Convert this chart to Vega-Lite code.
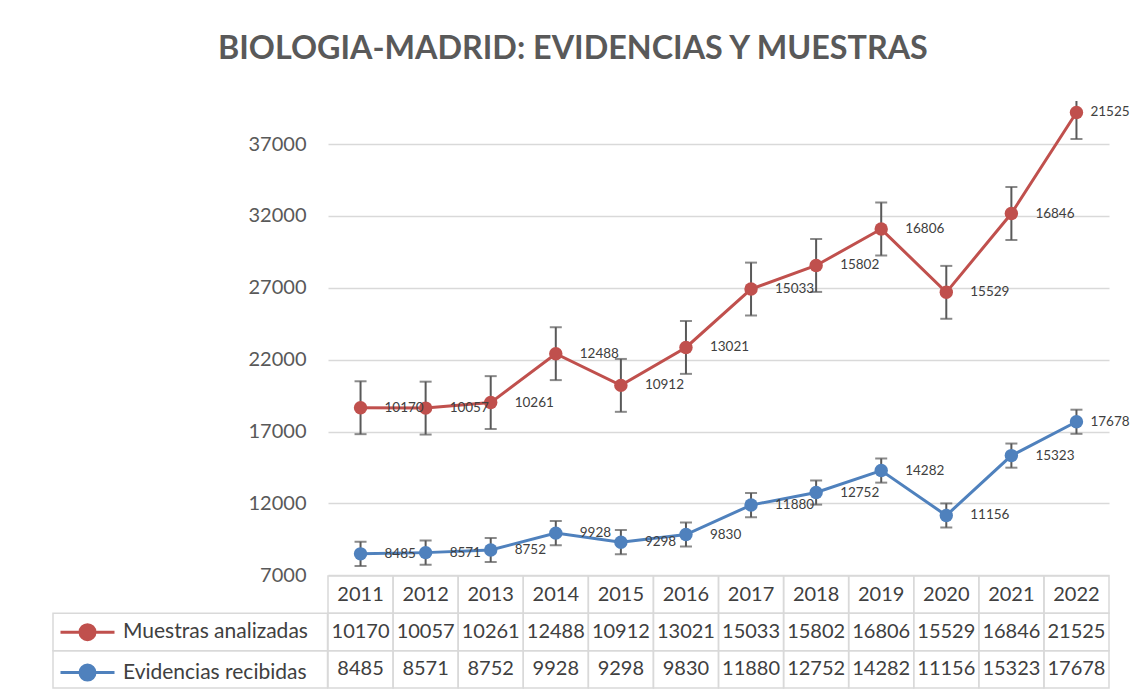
{
  "$schema": "https://vega.github.io/schema/vega-lite/v6.json",
  "padding": {"left": 52, "top": 32, "right": 23, "bottom": 5},
  "background": "white",
  "title": {"text": "BIOLOGIA-MADRID: EVIDENCIAS Y MUESTRAS", "font": "Lato", "fontSize": 32.3, "fontWeight": "bold", "color": "#595959", "offset": 36, "anchor": "middle", "dx": -18},
  "config": {"font": "Lato", "view": {"stroke": null}},
  "datasets": {
    "datos": [
      {"anio": 2011, "serie": "Muestras analizadas", "valor": 10170, "acumulado": 18655, "err_bajo": 16815, "err_alto": 20495},
      {"anio": 2012, "serie": "Muestras analizadas", "valor": 10057, "acumulado": 18628, "err_bajo": 16788, "err_alto": 20468},
      {"anio": 2013, "serie": "Muestras analizadas", "valor": 10261, "acumulado": 19013, "err_bajo": 17173, "err_alto": 20853},
      {"anio": 2014, "serie": "Muestras analizadas", "valor": 12488, "acumulado": 22416, "err_bajo": 20576, "err_alto": 24256},
      {"anio": 2015, "serie": "Muestras analizadas", "valor": 10912, "acumulado": 20210, "err_bajo": 18370, "err_alto": 22050},
      {"anio": 2016, "serie": "Muestras analizadas", "valor": 13021, "acumulado": 22851, "err_bajo": 21011, "err_alto": 24691},
      {"anio": 2017, "serie": "Muestras analizadas", "valor": 15033, "acumulado": 26913, "err_bajo": 25073, "err_alto": 28753},
      {"anio": 2018, "serie": "Muestras analizadas", "valor": 15802, "acumulado": 28554, "err_bajo": 26714, "err_alto": 30394},
      {"anio": 2019, "serie": "Muestras analizadas", "valor": 16806, "acumulado": 31088, "err_bajo": 29248, "err_alto": 32928},
      {"anio": 2020, "serie": "Muestras analizadas", "valor": 15529, "acumulado": 26685, "err_bajo": 24845, "err_alto": 28525},
      {"anio": 2021, "serie": "Muestras analizadas", "valor": 16846, "acumulado": 32169, "err_bajo": 30329, "err_alto": 34009},
      {"anio": 2022, "serie": "Muestras analizadas", "valor": 21525, "acumulado": 39203, "err_bajo": 37363, "err_alto": 41043},
      {"anio": 2011, "serie": "Evidencias recibidas", "valor": 8485, "acumulado": 8485, "err_bajo": 7645, "err_alto": 9325},
      {"anio": 2012, "serie": "Evidencias recibidas", "valor": 8571, "acumulado": 8571, "err_bajo": 7731, "err_alto": 9411},
      {"anio": 2013, "serie": "Evidencias recibidas", "valor": 8752, "acumulado": 8752, "err_bajo": 7912, "err_alto": 9592},
      {"anio": 2014, "serie": "Evidencias recibidas", "valor": 9928, "acumulado": 9928, "err_bajo": 9088, "err_alto": 10768},
      {"anio": 2015, "serie": "Evidencias recibidas", "valor": 9298, "acumulado": 9298, "err_bajo": 8458, "err_alto": 10138},
      {"anio": 2016, "serie": "Evidencias recibidas", "valor": 9830, "acumulado": 9830, "err_bajo": 8990, "err_alto": 10670},
      {"anio": 2017, "serie": "Evidencias recibidas", "valor": 11880, "acumulado": 11880, "err_bajo": 11040, "err_alto": 12720},
      {"anio": 2018, "serie": "Evidencias recibidas", "valor": 12752, "acumulado": 12752, "err_bajo": 11912, "err_alto": 13592},
      {"anio": 2019, "serie": "Evidencias recibidas", "valor": 14282, "acumulado": 14282, "err_bajo": 13442, "err_alto": 15122},
      {"anio": 2020, "serie": "Evidencias recibidas", "valor": 11156, "acumulado": 11156, "err_bajo": 10316, "err_alto": 11996},
      {"anio": 2021, "serie": "Evidencias recibidas", "valor": 15323, "acumulado": 15323, "err_bajo": 14483, "err_alto": 16163},
      {"anio": 2022, "serie": "Evidencias recibidas", "valor": 17678, "acumulado": 17678, "err_bajo": 16838, "err_alto": 18518}
    ]
  },
  "columns": 2,
  "align": "each",
  "bounds": "flush",
  "spacing": 0,
  "concat": [
    {
      "width": 274.5, "height": 474.2,
      "data": {"values": [{"t": ""}]},
      "mark": {"type": "text"},
      "encoding": {"text": {"field": "t", "type": "nominal"}}
    },
    {
      "width": 781, "height": 474.2,
      "data": {"name": "datos"},
      "encoding": {
        "x": {"field": "anio", "type": "ordinal", "scale": {"type": "band", "paddingInner": 0, "paddingOuter": 0}, "axis": null}
      },
      "layer": [
        {
          "mark": {"type": "line", "strokeWidth": 3},
          "encoding": {
            "y": {"field": "acumulado", "type": "quantitative", "title": null,
              "scale": {"domain": [7000, 40000], "nice": false, "zero": false},
              "axis": {"values": [7000, 12000, 17000, 22000, 27000, 32000, 37000], "format": "d", "labelFontSize": 20, "labelColor": "#595959", "labelPadding": 22, "ticks": false, "domain": false, "gridColor": "#d9d9d9", "gridWidth": 1.5, "labelFont": "Lato"}},
            "color": {"field": "serie", "type": "nominal",
              "scale": {"domain": ["Muestras analizadas", "Evidencias recibidas"], "range": ["#C0504D", "#4F81BD"]},
              "legend": {"orient": "none", "legendX": 21, "legendY": 517.7, "title": null, "padding": 0,
                "labelFontSize": 21, "labelColor": "#404040", "labelFont": "Lato", "labelOffset": 22, "labelLimit": 400, "rowPadding": 13.4,
                "symbolType": "M-2.25,0H2.25M0.625,0A0.625,0.625,0,1,1,-0.625,0A0.625,0.625,0,1,1,0.625,0Z",
                "symbolSize": 576, "symbolStrokeWidth": 3,
                "encode": {"symbols": {"update": {"fill": {"scale": "color", "field": "value"}, "stroke": {"scale": "color", "field": "value"}, "strokeWidth": {"value": 3}, "opacity": {"value": 1}}}}}}
          }
        },
        {
          "mark": {"type": "rule", "color": "#595959", "strokeWidth": 2, "clip": true},
          "encoding": {"y": {"field": "err_bajo", "type": "quantitative", "title": null}, "y2": {"field": "err_alto"}}
        },
        {
          "mark": {"type": "tick", "color": "#595959", "size": 12, "thickness": 2, "clip": true},
          "encoding": {"y": {"field": "err_bajo", "type": "quantitative", "title": null}}
        },
        {
          "mark": {"type": "tick", "color": "#595959", "size": 12, "thickness": 2, "clip": true},
          "encoding": {"y": {"field": "err_alto", "type": "quantitative", "title": null}}
        },
        {
          "mark": {"type": "point", "filled": true, "size": 180, "opacity": 1},
          "encoding": {
            "y": {"field": "acumulado", "type": "quantitative", "title": null},
            "color": {"field": "serie", "type": "nominal"}
          }
        },
        {
          "transform": [{"filter": "datum.anio != 2022"}],
          "mark": {"type": "text", "align": "left", "baseline": "middle", "dx": 24, "fontSize": 13.5, "color": "#404040"},
          "encoding": {
            "y": {"field": "acumulado", "type": "quantitative", "title": null},
            "text": {"field": "valor", "type": "nominal"}
          }
        },
        {
          "transform": [{"filter": "datum.anio == 2022"}],
          "mark": {"type": "text", "align": "left", "baseline": "middle", "dx": 14, "fontSize": 13.5, "color": "#404040"},
          "encoding": {
            "y": {"field": "acumulado", "type": "quantitative", "title": null},
            "text": {"field": "valor", "type": "nominal"}
          }
        }
      ]
    },
    {
      "width": 274.5, "height": 112,
      "data": {"name": "datos"},
      "transform": [{"filter": "datum.anio == 2011"}],
      "mark": {"type": "rect", "filled": false, "color": "#d9d9d9", "strokeWidth": 1.5},
      "encoding": {
        "y": {"field": "serie", "type": "nominal", "scale": {"domain": ["cabecera", "Muestras analizadas", "Evidencias recibidas"], "paddingInner": 0, "paddingOuter": 0}, "axis": null}
      }
    },
    {
      "width": 781, "height": 112,
      "data": {"name": "datos"},
      "encoding": {
        "x": {"field": "anio", "type": "ordinal", "scale": {"type": "band", "paddingInner": 0, "paddingOuter": 0}, "axis": null}
      },
      "layer": [
        {
          "mark": {"type": "rect", "filled": false, "color": "#d9d9d9", "strokeWidth": 1.5},
          "encoding": {"y": {"field": "serie", "type": "nominal", "scale": {"domain": ["cabecera", "Muestras analizadas", "Evidencias recibidas"], "paddingInner": 0, "paddingOuter": 0}, "axis": null}}
        },
        {
          "transform": [{"filter": "datum.serie == 'Muestras analizadas'"}],
          "mark": {"type": "rect", "filled": false, "color": "#d9d9d9", "strokeWidth": 1.5},
          "encoding": {"y": {"datum": "cabecera", "type": "nominal"}}
        },
        {
          "mark": {"type": "text", "fontSize": 20, "color": "#404040"},
          "encoding": {"y": {"field": "serie", "type": "nominal"}, "text": {"field": "valor", "type": "nominal"}}
        },
        {
          "transform": [{"filter": "datum.serie == 'Muestras analizadas'"}],
          "mark": {"type": "text", "fontSize": 20, "color": "#404040"},
          "encoding": {"y": {"datum": "cabecera", "type": "nominal"}, "text": {"field": "anio", "type": "nominal"}}
        }
      ]
    }
  ]
}
